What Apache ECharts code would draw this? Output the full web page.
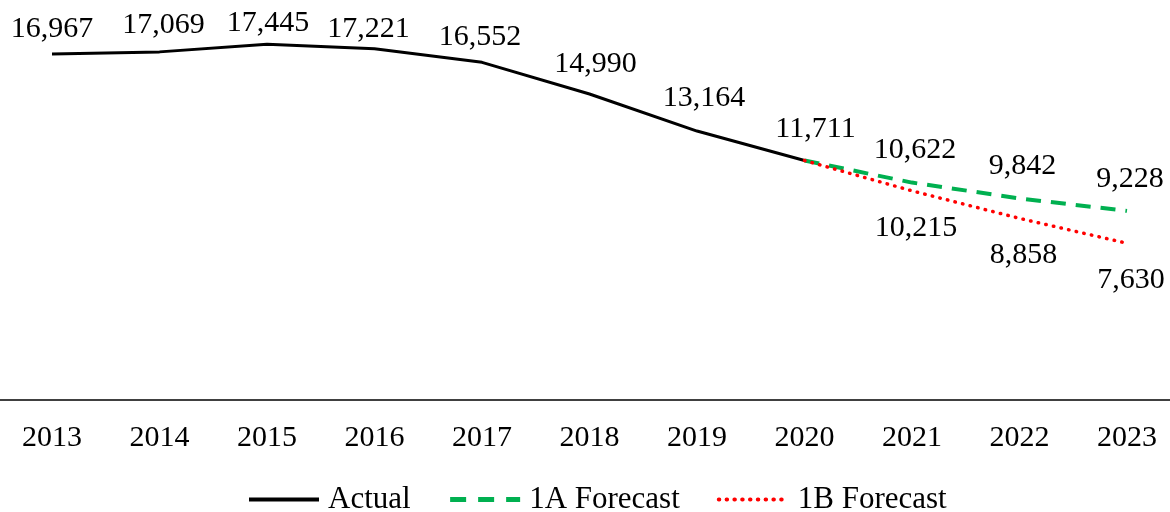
<!DOCTYPE html>
<html>
<head>
<meta charset="UTF-8">
<title>Actual vs Forecast</title>
<script src="https://cdn.jsdelivr.net/npm/echarts@6/dist/echarts.min.js"></script>
<style>
  html, body { margin: 0; padding: 0; background: #fff; }
  #chart { width: 1170px; height: 512px; }
</style>
</head>
<body>
<div id="chart"></div>
<script>
// data
var years = ['2013', '2014', '2015', '2016', '2017', '2018', '2019', '2020', '2021', '2022', '2023'];
var actual = [16967, 17069, 17445, 17221, 16552, 14990, 13164, 11711, null, null, null];
var forecast1A = [null, null, null, null, null, null, null, 11711, 10622, 9842, 9228];
var forecast1B = [null, null, null, null, null, null, null, 11711, 10215, 8858, 7630];

// label nudges for the Actual series (the original labels were placed by hand)
var actualLabelDx = [0, 4, 1, -6, -2, 6, 7, 11];
var actualLabelDist = [10, 12, 6, 5, 10, 15, 18, 16];

var FONT = "'Liberation Serif', 'Times New Roman', serif";

function fmt(v) {
    return v == null ? '' : v.toLocaleString('en-US');
}
// forecast series share the 2020 point with Actual, so skip its label
function forecastLabel(p) {
    return p.dataIndex === 7 ? '' : fmt(p.value);
}

var actualData = actual.map(function (v, i) {
    if (v == null) return v;
    return { value: v, label: { offset: [actualLabelDx[i], 0], distance: actualLabelDist[i] } };
});

var chart = echarts.init(document.getElementById('chart'));
var option = {
    animation: false,
    grid: [
        { left: 52, right: 43, top: 33, bottom: 112 },
        { left: 0, right: 0, top: 33, bottom: 112 } // full width base line
    ],
    legend: {
        top: 479,
        left: 242,
        itemWidth: 70,
        itemHeight: 14,
        itemGap: 37,
        itemStyle: { opacity: 0 },
        textStyle: { fontFamily: FONT, fontSize: 31, color: '#000', lineHeight: 31, padding: [0, 0, 0, 4] },
        data: [
            { name: 'Actual', lineStyle: { width: 4 } },
            { name: '1A Forecast', lineStyle: { width: 5, type: [16, 12] } },
            { name: '1B Forecast', lineStyle: { width: 4, type: [0.5, 7.3], cap: 'round' } }
        ]
    },
    xAxis: [
        {
            type: 'category',
            data: years,
            boundaryGap: false,
            gridIndex: 0,
            axisLine: { show: false, onZero: false },
            axisTick: { show: false },
            axisLabel: { fontFamily: FONT, fontSize: 30, color: '#000', margin: 23, interval: 0 }
        },
        {
            type: 'category',
            data: years,
            gridIndex: 1,
            axisLine: { onZero: false, lineStyle: { color: '#000', width: 1.5 } },
            axisTick: { show: false },
            axisLabel: { show: false }
        }
    ],
    yAxis: [
        { type: 'value', min: -100, max: 18000, show: false, gridIndex: 0 },
        { type: 'value', min: -100, max: 18000, show: false, gridIndex: 1 }
    ],
    series: [
        {
            name: 'Actual',
            type: 'line',
            data: actualData,
            symbol: 'circle',
            symbolSize: 0.1,
            lineStyle: { color: '#000', width: 3 },
            itemStyle: { color: '#000' },
            label: {
                show: true, position: 'top', distance: 14,
                fontFamily: FONT, fontSize: 30, color: '#000',
                formatter: function (p) { return fmt(p.value); }
            }
        },
        {
            name: '1A Forecast',
            type: 'line',
            data: forecast1A,
            symbol: 'circle',
            symbolSize: 0.1,
            lineStyle: { color: '#00B050', width: 4, type: [15, 10] },
            itemStyle: { color: '#00B050' },
            label: {
                show: true, position: 'top', distance: 17, offset: [3, 0],
                fontFamily: FONT, fontSize: 30, color: '#000',
                formatter: forecastLabel
            }
        },
        {
            name: '1B Forecast',
            type: 'line',
            data: forecast1B,
            symbol: 'circle',
            symbolSize: 0.1,
            lineStyle: { color: '#FF0000', width: 3.5, type: [0.5, 7.3], cap: 'round' },
            itemStyle: { color: '#FF0000' },
            label: {
                show: true, position: 'bottom', distance: 22, offset: [4, 0],
                fontFamily: FONT, fontSize: 30, color: '#000',
                formatter: forecastLabel
            }
        }
    ]
};
chart.setOption(option);
</script>
</body>
</html>
